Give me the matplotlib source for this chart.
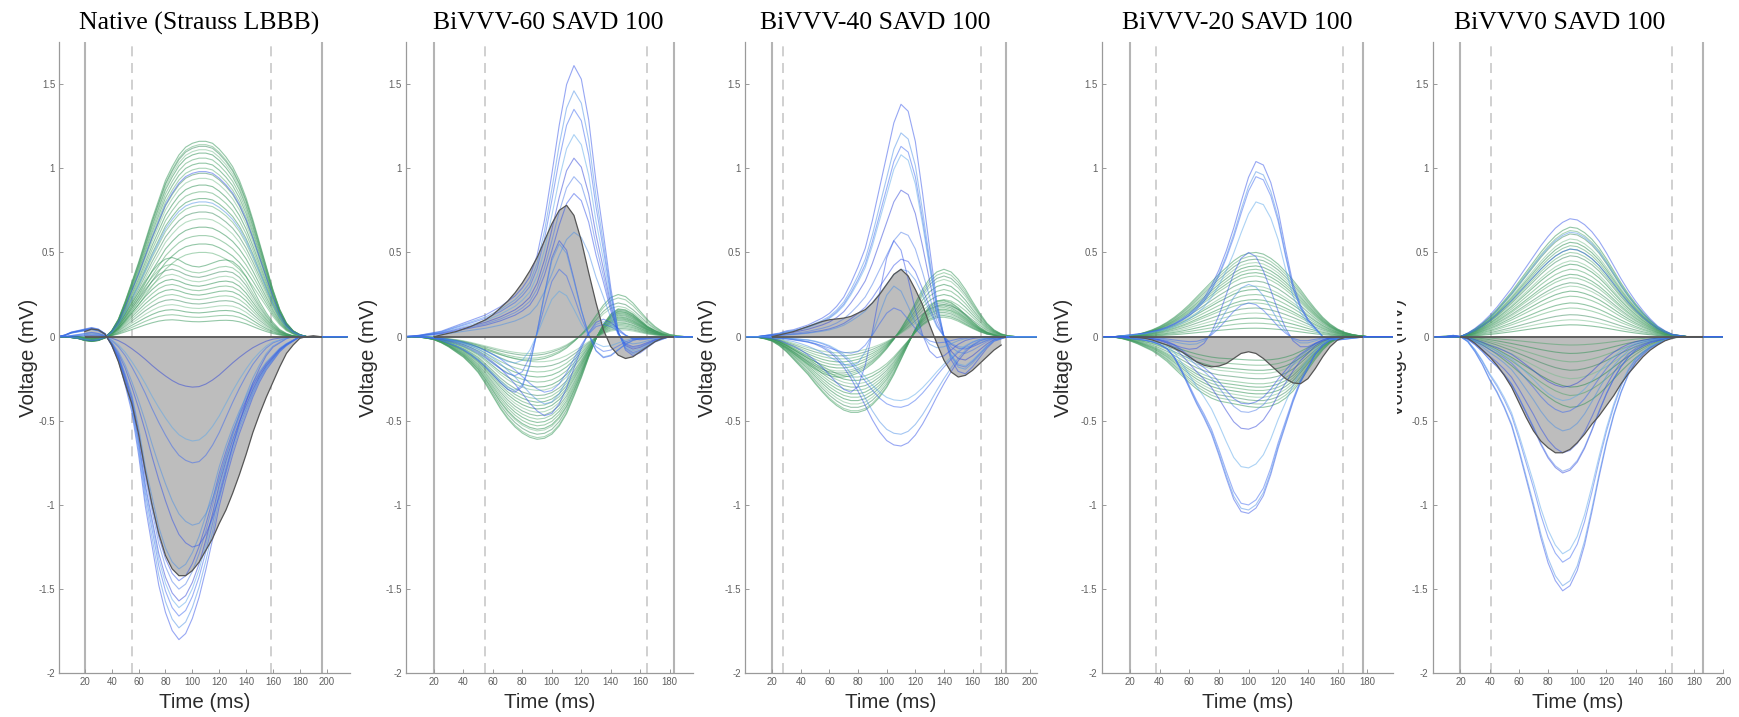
import numpy as np
import matplotlib
matplotlib.use('Agg')
import matplotlib.pyplot as plt
from matplotlib.transforms import Bbox, TransformedBbox

# sample times (ms), every 5 ms
t = np.arange(0, 220, 5)

# ---------------- Native (Strauss LBBB) ----------------
native_green_shape = [
    0, 0, -0.005, -0.01, -0.02, -0.025, -0.02, -0.005, 0.03, 0.09, 0.18,
    0.28, 0.38, 0.49, 0.6, 0.7, 0.8, 0.87, 0.93, 0.97, 0.99, 1.0,
    1.0, 0.99, 0.96, 0.92, 0.87, 0.8, 0.71, 0.6, 0.48, 0.36, 0.24,
    0.14, 0.07, 0.03, 0.01, 0, 0, 0, 0, 0, 0, 0]
native_flat_shape = [
    0, 0, 0, -0.01, -0.03, -0.05, -0.05, -0.02, 0.05, 0.15, 0.28,
    0.42, 0.56, 0.7, 0.82, 0.92, 0.98, 1.0, 0.97, 0.92, 0.89, 0.88,
    0.9, 0.93, 0.96, 0.97, 0.95, 0.88, 0.76, 0.6, 0.44, 0.3, 0.18,
    0.09, 0.04, 0.01, 0, 0, 0, 0, 0, 0, 0, 0]
native_blue_shape = [
    0, 0.005, 0.015, 0.02, 0.025, 0.03, 0.025, 0.01, -0.03, -0.08, -0.16,
    -0.25, -0.39, -0.56, -0.69, -0.82, -0.91, -0.97, -1.0, -0.98, -0.93, -0.86,
    -0.77, -0.67, -0.56, -0.47, -0.39, -0.32, -0.26, -0.2, -0.15, -0.11, -0.08,
    -0.05, -0.03, -0.015, 0, 0, 0, 0, 0, 0, 0, 0]
native_late_shape = [
    0, 0, 0.005, 0.01, 0.015, 0.02, 0.015, 0.005, -0.03, -0.08, -0.15,
    -0.24, -0.34, -0.45, -0.57, -0.68, -0.78, -0.87, -0.94, -0.98, -1.0, -0.99,
    -0.94, -0.86, -0.76, -0.64, -0.52, -0.41, -0.31, -0.22, -0.15, -0.09, -0.05,
    -0.03, -0.01, 0, 0, 0, 0, 0, 0, 0, 0, 0]
native_mean = [
    0, 0, 0, 0.01, 0.03, 0.045, 0.04, 0.015, -0.05, -0.15, -0.28,
    -0.4, -0.58, -0.8, -1.0, -1.17, -1.3, -1.38, -1.42, -1.42, -1.39, -1.34,
    -1.27, -1.2, -1.11, -1.03, -0.93, -0.82, -0.7, -0.57, -0.46, -0.36, -0.27,
    -0.18, -0.1, -0.05, -0.01, 0, 0.005, 0, 0, 0, 0, 0]
native_green_amp = [1.16, 1.14, 1.13, 1.11, 1.09, 1.06, 1.03, 1.0, 0.97, 0.94,
                    0.9, 0.86, 0.82, 0.78, 0.74, 0.7, 0.65, 0.6, 0.55, 0.5]
native_flat_amp = [0.47, 0.43, 0.4, 0.37, 0.34, 0.31, 0.28, 0.25, 0.22, 0.19, 0.16, 0.13, 0.1]
native_blue_amp = [1.8, 1.73, 1.66, 1.61, 1.57, 1.5, 1.45, 1.38]
native_late_amp = [1.25, 1.12, 0.75, 0.62, 0.3]
native_bluepos_amp = [0.98, 0.8]

# ---------------- BiVVV-60 ----------------
p60_blue_shape = [
    0, 0.002, 0.005, 0.01, 0.015, 0.02, 0.03, 0.04, 0.05, 0.06, 0.07,
    0.08, 0.095, 0.11, 0.13, 0.15, 0.18, 0.22, 0.3, 0.43, 0.6, 0.78,
    0.93, 1.0, 0.95, 0.8, 0.57, 0.38, 0.18, 0.02, -0.05, -0.07, -0.06,
    -0.04, -0.02, -0.01, 0, 0, 0, 0, 0, 0, 0, 0]
p60_biphasic_shape = [
    0, 0, 0, -0.01, -0.02, -0.04, -0.07, -0.1, -0.14, -0.19, -0.25,
    -0.32, -0.4, -0.48, -0.55, -0.58, -0.52, -0.3, 0.05, 0.45, 0.82, 1.0,
    0.9, 0.6, 0.28, 0.02, -0.15, -0.22, -0.2, -0.14, -0.08, -0.04, -0.02,
    -0.01, 0, 0, 0, 0, 0, 0, 0, 0, 0, 0]
p60_dip_shape = [
    0, 0, 0, -0.01, -0.02, -0.03, -0.05, -0.07, -0.1, -0.14, -0.19,
    -0.25, -0.32, -0.4, -0.5, -0.6, -0.72, -0.84, -0.94, -1.0, -0.97, -0.85,
    -0.65, -0.4, -0.15, 0.05, 0.18, 0.22, 0.18, 0.1, 0.02, -0.03, -0.04,
    -0.03, -0.015, 0, 0, 0, 0, 0, 0, 0, 0, 0]
p60_green_shape = [
    0, 0, -0.005, -0.015, -0.03, -0.06, -0.1, -0.15, -0.2, -0.27, -0.35,
    -0.46, -0.58, -0.7, -0.8, -0.88, -0.94, -0.98, -1.0, -0.99, -0.95, -0.87,
    -0.75, -0.58, -0.4, -0.2, -0.02, 0.12, 0.22, 0.27, 0.26, 0.22, 0.16,
    0.1, 0.06, 0.03, 0.01, 0, 0, 0, 0, 0, 0, 0]
p60_green_late_shape = [
    0, 0, 0, -0.01, -0.02, -0.04, -0.07, -0.1, -0.14, -0.19, -0.25,
    -0.31, -0.37, -0.43, -0.48, -0.52, -0.55, -0.56, -0.55, -0.52, -0.46, -0.38,
    -0.27, -0.12, 0.05, 0.25, 0.5, 0.75, 0.93, 1.0, 0.95, 0.8, 0.6,
    0.4, 0.24, 0.12, 0.05, 0.02, 0, 0, 0, 0, 0, 0]
p60_mean = [
    0, 0, 0, 0, 0, 0.01, 0.02, 0.03, 0.045, 0.06, 0.08,
    0.1, 0.13, 0.17, 0.21, 0.26, 0.32, 0.39, 0.47, 0.57, 0.67, 0.75,
    0.78, 0.72, 0.57, 0.38, 0.2, 0.04, -0.06, -0.11, -0.13, -0.12, -0.09,
    -0.06, -0.03, -0.01, 0, 0, 0, 0, 0, 0, 0, 0]
p60_blue_amp = [1.61, 1.46, 1.35, 1.2, 1.06, 0.95, 0.85, 0.62]
p60_biphasic_amp = [0.57, 0.55, 0.4, 0.27]
p60_dip_amp = [0.47, 0.4, 0.33]
p60_green_amp = [0.61, 0.6, 0.58, 0.56, 0.55, 0.53, 0.51, 0.49, 0.47, 0.45, 0.43,
                 0.41, 0.39, 0.37, 0.35, 0.32, 0.3, 0.27, 0.24, 0.21, 0.18, 0.15]
p60_green_late_amp = [0.25, 0.23, 0.2, 0.18]

# ---------------- BiVVV-40 ----------------
p40_blue_shape = [
    0, 0, 0, 0.005, 0.01, 0.015, 0.025, 0.03, 0.04, 0.05, 0.065,
    0.08, 0.1, 0.13, 0.17, 0.23, 0.3, 0.38, 0.5, 0.64, 0.78, 0.92,
    1.0, 0.97, 0.84, 0.62, 0.38, 0.15, 0.0, -0.1, -0.15, -0.16, -0.13,
    -0.09, -0.05, -0.02, -0.01, 0, 0, 0, 0, 0, 0, 0]
p40_dip_shape = [
    0, 0, 0, 0, -0.01, -0.015, -0.02, -0.03, -0.04, -0.05, -0.07,
    -0.1, -0.14, -0.2, -0.28, -0.38, -0.5, -0.63, -0.76, -0.87, -0.95, -0.99,
    -1.0, -0.97, -0.9, -0.8, -0.68, -0.55, -0.43, -0.32, -0.22, -0.14, -0.08,
    -0.04, -0.02, -0.01, 0, 0, 0, 0, 0, 0, 0, 0]
p40_green_shape = [
    0, 0, -0.01, -0.03, -0.06, -0.12, -0.2, -0.3, -0.4, -0.5, -0.62,
    -0.73, -0.83, -0.91, -0.97, -1.0, -1.0, -0.97, -0.9, -0.8, -0.67, -0.5,
    -0.3, -0.1, 0.1, 0.28, 0.4, 0.47, 0.48, 0.45, 0.38, 0.29, 0.2,
    0.12, 0.06, 0.03, 0.01, 0, 0, 0, 0, 0, 0, 0]
p40_green_late_shape = [
    0, 0, -0.01, -0.02, -0.05, -0.1, -0.17, -0.25, -0.33, -0.41, -0.48,
    -0.54, -0.58, -0.6, -0.6, -0.58, -0.54, -0.48, -0.4, -0.3, -0.18, -0.04,
    0.12, 0.3, 0.5, 0.7, 0.86, 0.96, 1.0, 0.96, 0.85, 0.7, 0.52,
    0.35, 0.2, 0.1, 0.04, 0.01, 0, 0, 0, 0, 0, 0]
p40_mean = [
    0, 0, 0, 0, 0, 0.01, 0.02, 0.03, 0.045, 0.06, 0.075,
    0.09, 0.1, 0.105, 0.11, 0.12, 0.14, 0.16, 0.2, 0.25, 0.31, 0.37,
    0.4, 0.36, 0.28, 0.19, 0.07, -0.04, -0.14, -0.21, -0.24, -0.23, -0.2,
    -0.16, -0.12, -0.08, -0.05, -0.03, 0, 0, 0, 0, 0, 0]
p40_blue_amp = [1.38, 1.21, 1.13, 1.08, 0.87, 0.62, 0.46, 0.4]
p40_biphasic_amp = [0.57, 0.3, 0.17]
p40_dip_amp = [0.65, 0.58, 0.42, 0.38]
p40_green_amp = [0.45, 0.44, 0.42, 0.4, 0.38, 0.36, 0.34, 0.32, 0.3, 0.28, 0.26, 0.24]
p40_green_late_amp = [0.4, 0.38, 0.36, 0.34, 0.31, 0.28, 0.25, 0.22, 0.19, 0.16]

# ---------------- BiVVV-20 ----------------
p20_blue_shape = [
    0, 0, 0, 0.005, 0.01, 0.015, 0.02, 0.03, 0.04, 0.055, 0.075,
    0.1, 0.13, 0.17, 0.22, 0.29, 0.38, 0.49, 0.62, 0.77, 0.91, 1.0,
    0.98, 0.88, 0.72, 0.5, 0.3, 0.18, 0.1, 0.05, 0.0, -0.015, -0.02,
    -0.015, -0.01, -0.005, 0, 0, 0, 0, 0, 0, 0, 0]
p20_narrow_shape = [
    0, 0, 0, 0, 0, 0, 0, -0.02, -0.04, -0.07, -0.1,
    -0.13, -0.15, -0.14, -0.08, 0.05, 0.25, 0.5, 0.75, 0.93, 1.0, 0.95,
    0.78, 0.55, 0.3, 0.1, -0.05, -0.12, -0.12, -0.08, -0.04, -0.01, 0,
    0, 0, 0, 0, 0, 0, 0, 0, 0, 0, 0]
p20_dip_shape = [
    0, 0, 0, -0.005, -0.01, -0.015, -0.02, -0.03, -0.045, -0.07, -0.12,
    -0.2, -0.29, -0.38, -0.46, -0.55, -0.67, -0.8, -0.92, -0.99, -1.0, -0.97,
    -0.9, -0.78, -0.63, -0.5, -0.37, -0.26, -0.18, -0.1, -0.05, -0.02, -0.01,
    0, 0, 0, 0, 0, 0, 0, 0, 0, 0, 0]
p20_green_shape = [
    0, 0, 0, 0.005, 0.01, 0.025, 0.05, 0.08, 0.12, 0.17, 0.23,
    0.3, 0.38, 0.47, 0.56, 0.65, 0.74, 0.82, 0.9, 0.96, 0.99, 1.0,
    0.98, 0.93, 0.86, 0.77, 0.67, 0.56, 0.44, 0.33, 0.23, 0.15, 0.09,
    0.05, 0.025, 0.01, 0, 0, 0, 0, 0, 0, 0, 0]
p20_green_dip_shape = [
    0, 0, -0.01, -0.03, -0.06, -0.1, -0.15, -0.2, -0.27, -0.35, -0.45,
    -0.55, -0.65, -0.74, -0.81, -0.87, -0.91, -0.93, -0.95, -0.97, -0.99, -1.0,
    -1.0, -0.98, -0.94, -0.87, -0.77, -0.63, -0.47, -0.32, -0.19, -0.09, -0.03,
    -0.01, 0, 0, 0, 0, 0, 0, 0, 0, 0, 0]
p20_mean = [
    0, 0, 0, 0, 0, -0.005, -0.01, -0.02, -0.035, -0.05, -0.07,
    -0.09, -0.12, -0.15, -0.17, -0.18, -0.175, -0.16, -0.13, -0.1, -0.09, -0.1,
    -0.13, -0.17, -0.21, -0.25, -0.275, -0.28, -0.25, -0.19, -0.12, -0.06, -0.02,
    -0.005, 0, 0, 0, 0, 0, 0, 0, 0, 0, 0]
p20_blue_amp = [1.04, 0.98, 0.95, 0.8]
p20_narrow_amp = [0.5, 0.31, 0.2]
p20_dip_amp = [1.05, 1.03, 1.0, 0.78, 0.55, 0.45, 0.4]
p20_green_amp = [0.5, 0.48, 0.46, 0.44, 0.42, 0.4, 0.38, 0.36, 0.33, 0.3,
                 0.28, 0.25, 0.22, 0.2, 0.17, 0.14, 0.11, 0.08, 0.05]
p20_green_dip_amp = [0.42, 0.4, 0.38, 0.36, 0.34, 0.32, 0.3, 0.28, 0.25, 0.22, 0.2, 0.17, 0.14]

# ---------------- BiVVV0 ----------------
p0_dip_shape = [
    0, 0, 0, 0.005, 0, -0.02, -0.06, -0.11, -0.17, -0.22, -0.28,
    -0.35, -0.45, -0.56, -0.67, -0.79, -0.89, -0.96, -1.0, -0.98, -0.92, -0.82,
    -0.69, -0.55, -0.42, -0.31, -0.22, -0.15, -0.1, -0.07, -0.045, -0.03, -0.015,
    -0.005, 0, 0, 0, 0, 0, 0, 0, 0, 0, 0]
p0_green_shape = [
    0, 0, -0.005, -0.005, 0, 0.03, 0.07, 0.12, 0.18, 0.25, 0.33,
    0.41, 0.5, 0.59, 0.68, 0.77, 0.85, 0.92, 0.97, 1.0, 0.99, 0.95,
    0.89, 0.81, 0.71, 0.6, 0.49, 0.39, 0.3, 0.22, 0.15, 0.09, 0.05,
    0.02, 0.01, 0, 0, 0, 0, 0, 0, 0, 0, 0]
p0_mean = [
    0, 0, 0, 0, 0, -0.01, -0.04, -0.08, -0.12, -0.17, -0.23,
    -0.3, -0.39, -0.48, -0.56, -0.62, -0.66, -0.69, -0.69, -0.67, -0.63, -0.58,
    -0.52, -0.47, -0.41, -0.35, -0.28, -0.22, -0.17, -0.12, -0.08, -0.05, -0.025,
    -0.01, 0, 0, 0, 0, 0, 0, 0, 0, 0, 0]
p0_dip_amp = [1.51, 1.48, 1.34, 1.29, 0.81, 0.8, 0.69, 0.56, 0.45, 0.38, 0.3]
p0_green_amp = [0.65, 0.63, 0.61, 0.58, 0.56, 0.54, 0.52, 0.5, 0.48, 0.45, 0.43, 0.4,
                0.37, 0.35, 0.32, 0.3, 0.27, 0.24, 0.2, 0.17, 0.13, 0.1, 0.07,
                -0.05, -0.1, -0.15, -0.2, -0.25, -0.3, -0.35, -0.42]
p0_bluepos_amp = [0.7, 0.62, 0.52]

titles = ['Native (Strauss LBBB)', 'BiVVV-60 SAVD 100', 'BiVVV-40 SAVD 100',
          'BiVVV-20 SAVD 100', 'BiVVV0 SAVD 100']
qrs_window = [(20, 196.3), (20, 183), (20, 183.7), (20, 177.4), (20, 186)]
dashed_marks = [(55, 158.4), (54.6, 164.9), (27.4, 166), (37.3, 163.6), (40.9, 165)]
means = [native_mean, p60_mean, p40_mean, p20_mean, p0_mean]
families = [
    [('g', native_green_shape, native_green_amp), ('g', native_flat_shape, native_flat_amp),
     ('b', native_blue_shape, native_blue_amp), ('b', native_late_shape, native_late_amp),
     ('b', native_green_shape, native_bluepos_amp)],
    [('g', p60_green_shape, p60_green_amp), ('g', p60_green_late_shape, p60_green_late_amp),
     ('b', p60_blue_shape, p60_blue_amp), ('b', p60_biphasic_shape, p60_biphasic_amp),
     ('b', p60_dip_shape, p60_dip_amp)],
    [('g', p40_green_shape, p40_green_amp), ('g', p40_green_late_shape, p40_green_late_amp),
     ('b', p40_blue_shape, p40_blue_amp), ('b', p60_biphasic_shape, p40_biphasic_amp),
     ('b', p40_dip_shape, p40_dip_amp)],
    [('g', p20_green_shape, p20_green_amp), ('g', p20_green_dip_shape, p20_green_dip_amp),
     ('b', p20_blue_shape, p20_blue_amp), ('b', p20_narrow_shape, p20_narrow_amp),
     ('b', p20_dip_shape, p20_dip_amp)],
    [('g', p0_green_shape, p0_green_amp), ('b', p0_green_shape, p0_bluepos_amp),
     ('b', p0_dip_shape, p0_dip_amp)],
]
x_max = [217.3, 195.6, 204.8, 197.2, 199.8]
x_tick_max = [200, 180, 200, 180, 200]

# layout in pixels (left, right) of each axes, and title centres
W, H = 1739, 717
axes_px = [(59.3, 350), (406, 692.7), (745, 1036.7), (1101.7, 1392.7), (1432.7, 1723.3)]
title_x = [199, 548, 875, 1237, 1560]
ylabel_x = [38, 378.3, 716.7, 1073.3, 1406.7]
top_px, bottom_px = 42, 673.3

blues = ['#3050e8', '#4a8ee6', '#3a66f0', '#5aa6ea', '#2c42d8', '#4a7ae8']
greens = ['#2a9050', '#58ad72', '#35885a', '#74bc8a', '#208848', '#4aa266']

plt.rcParams['font.family'] = 'Liberation Sans'
fig = plt.figure(figsize=(W / 100, H / 100), dpi=100)

for i in range(5):
    l, r = axes_px[i]
    ax = fig.add_axes([l / W, 1 - bottom_px / H, (r - l) / W, (bottom_px - top_px) / H])
    on, off = qrs_window[i]
    mean = np.array(means[i])
    m = (t >= on) & (t <= off)

    ax.axvline(on, color='#b4b4b4', lw=1.5, zorder=0.5)
    ax.axvline(off, color='#b4b4b4', lw=1.5, zorder=0.5)
    for d in dashed_marks[i]:
        ax.axvline(d, color='#c8c8c8', lw=1.2, dashes=(6, 4), zorder=0.5)

    ax.fill_between(t[m], mean[m], 0, facecolor='#bdbdbd', edgecolor='none', zorder=1)

    for fam, shape, amps in families[i]:
        pal = greens if fam == 'g' else blues
        shape = np.array(shape)
        for k, a in enumerate(amps):
            ax.plot(t, a * shape, color=pal[k % len(pal)], lw=0.8, alpha=0.5, zorder=2)

    ax.plot(t[m], mean[m], color='#555555', lw=0.9, zorder=3)
    ax.hlines(0, on, off, color='#555555', lw=1.3, zorder=3)

    ax.set_xlim(1, x_max[i])
    ax.set_ylim(-2, 1.75)
    ax.set_xticks(range(20, x_tick_max[i] + 1, 20))
    ax.set_yticks([-2, -1.5, -1, -0.5, 0, 0.5, 1, 1.5])
    ax.set_yticklabels(['-2', '-1.5', '-1', '-0.5', '0', '0.5', '1', '1.5'])
    for s in ['top', 'right']:
        ax.spines[s].set_visible(False)
    for s in ['left', 'bottom']:
        ax.spines[s].set_color('#9a9a9a')
        ax.spines[s].set_linewidth(0.9)
    ax.tick_params(direction='in', length=3, width=0.7, color='#9a9a9a',
                   labelsize=6.9, labelcolor='#5f5f5f', pad=3)

    ax.set_xlabel('Time (ms)', fontsize=14.8, color='#2b2b2b', labelpad=4)
    ax.set_ylabel('Voltage (mV)', fontsize=14.8, color='#2b2b2b')
    ax.yaxis.set_label_coords((ylabel_x[i] - l) / (r - l), 0.5)

    fig.text(title_x[i] / W, 1 - 29.3 / H, titles[i], ha='center', va='baseline',
             fontsize=18.5, family='Liberation Serif')

    if i == 4:
        # the last panel's y label is cut off on its left side
        lab = ax.yaxis.label
        lab.set_clip_box(TransformedBbox(Bbox.from_extents(1397 / W, 0, 1, 1), fig.transFigure))
        lab.set_clip_on(True)

fig.savefig('out.png', dpi=100)
